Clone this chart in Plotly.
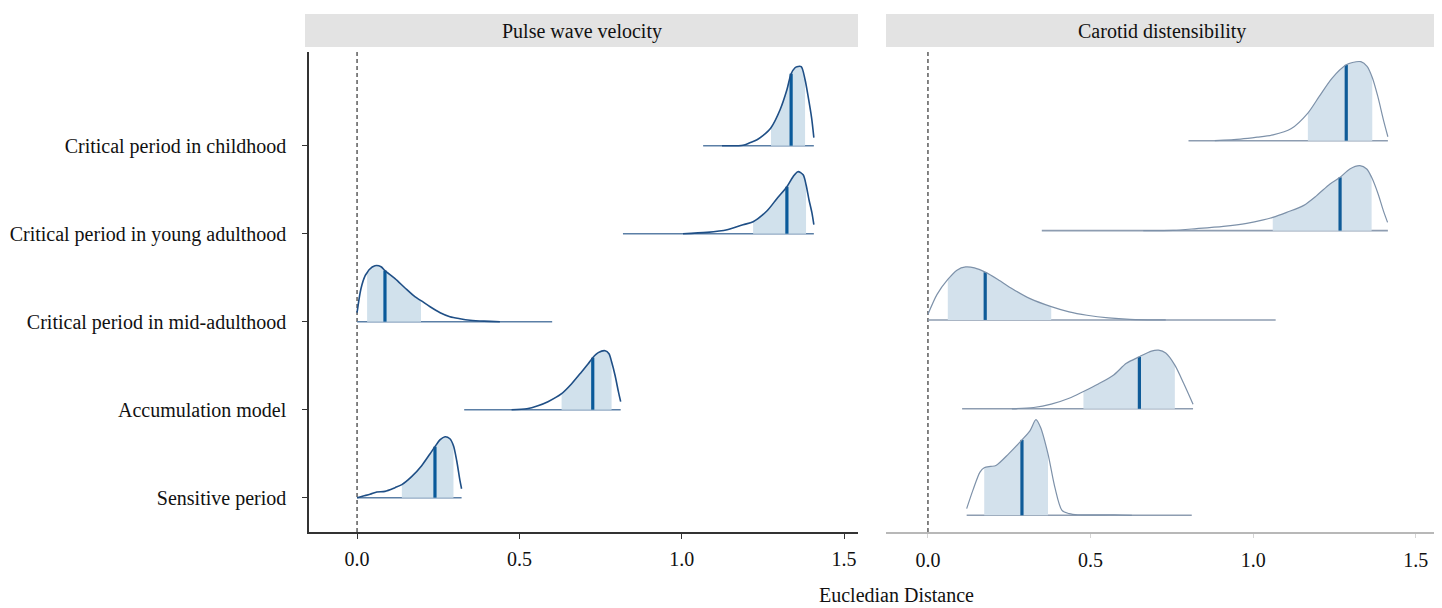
import plotly.graph_objects as go

# ---------------- data ----------------
panels = ["Pulse wave velocity", "Carotid distensibility"]
rows = ["Critical period in childhood", "Critical period in young adulthood",
        "Critical period in mid-adulthood", "Accumulation model", "Sensitive period"]
x_ticks = [0.0, 0.5, 1.0, 1.5]
x_tick_text = ["0.0", "0.5", "1.0", "1.5"]
x_title = "Eucledian Distance"

# Pulse wave velocity: density outline (x, height), [lo, median, hi], [min, max]
pwv_child_x = [1.124, 1.189, 1.210, 1.232, 1.250, 1.275, 1.303, 1.324, 1.337, 1.349, 1.355, 1.368, 1.380, 1.389, 1.400, 1.407]
pwv_child_d = [0, .005, .034, .068, .114, .205, .409, .636, .818, .886, .898, .898, .75, .568, .318, .091]
pwv_child_iv = [1.275, 1.337, 1.380]
pwv_child_rng = [1.066, 1.407]

pwv_young_x = [1.004, 1.078, 1.140, 1.189, 1.220, 1.263, 1.293, 1.324, 1.343, 1.358, 1.374, 1.383, 1.392, 1.401, 1.407]
pwv_young_d = [0, .015, .045, .102, .136, .261, .398, .534, .648, .705, .670, .557, .386, .239, .102]
pwv_young_iv = [1.220, 1.324, 1.383]
pwv_young_rng = [0.819, 1.407]

pwv_mid_x = [0.0, 0.012, 0.025, 0.031, 0.037, 0.055, 0.074, 0.086, 0.117, 0.147, 0.178, 0.197, 0.225, 0.256, 0.286, 0.317, 0.348, 0.391, 0.440]
pwv_mid_d = [.102, .375, .523, .557, .591, .636, .625, .580, .489, .386, .284, .239, .170, .102, .057, .034, .017, .006, 0]
pwv_mid_iv = [0.031, 0.086, 0.197]
pwv_mid_rng = [0.0, 0.601]

pwv_acc_x = [0.476, 0.523, 0.557, 0.588, 0.630, 0.661, 0.692, 0.712, 0.726, 0.743, 0.764, 0.776, 0.784, 0.795, 0.805, 0.812]
pwv_acc_d = [0, .011, .045, .091, .182, .295, .432, .523, .591, .648, .670, .636, .545, .386, .205, .091]
pwv_acc_iv = [0.630, 0.726, 0.784]
pwv_acc_rng = [0.330, 0.812]

pwv_sens_x = [0.0, 0.019, 0.040, 0.061, 0.086, 0.117, 0.138, 0.168, 0.199, 0.225, 0.240, 0.256, 0.271, 0.286, 0.297, 0.307, 0.317, 0.322]
pwv_sens_d = [0, .019, .038, .065, .072, .114, .148, .239, .364, .5, .580, .659, .693, .670, .591, .420, .193, .102]
pwv_sens_iv = [0.138, 0.240, 0.297]
pwv_sens_rng = [0.0, 0.322]

# Carotid distensibility
cd_child_x = [0.882, 0.961, 1.012, 1.061, 1.116, 1.168, 1.203, 1.242, 1.286, 1.305, 1.331, 1.350, 1.366, 1.383, 1.401, 1.414]
cd_child_d = [0, .018, .040, .067, .135, .314, .503, .709, .862, .889, .898, .844, .718, .503, .225, .045]
cd_child_iv = [1.168, 1.286, 1.366]
cd_child_rng = [0.801, 1.414]

cd_young_x = [0.662, 0.754, 0.826, 0.908, 0.980, 1.031, 1.060, 1.103, 1.154, 1.195, 1.236, 1.267, 1.297, 1.328, 1.349, 1.364, 1.384, 1.400, 1.413]
cd_young_d = [0, .003, .023, .049, .083, .122, .151, .208, .284, .398, .531, .606, .701, .739, .701, .606, .417, .227, .094]
cd_young_iv = [1.060, 1.267, 1.364]
cd_young_rng = [0.350, 1.414]

cd_mid_x = [0.0, 0.028, 0.061, 0.089, 0.116, 0.143, 0.176, 0.215, 0.259, 0.314, 0.379, 0.434, 0.489, 0.555, 0.621, 0.731]
cd_mid_d = [.064, .291, .460, .566, .602, .591, .543, .460, .355, .242, .151, .091, .053, .023, .007, 0]
cd_mid_iv = [0.061, 0.176, 0.379]
cd_mid_rng = [0.0, 1.069]

cd_acc_x = [0.258, 0.325, 0.379, 0.434, 0.478, 0.522, 0.571, 0.610, 0.650, 0.687, 0.709, 0.731, 0.759, 0.786, 0.815]
cd_acc_d = [0, .015, .053, .120, .197, .279, .385, .517, .592, .656, .666, .634, .497, .291, .053]
cd_acc_iv = [0.478, 0.650, 0.759]
cd_acc_rng = [0.105, 0.815]

cd_sens_x = [0.119, 0.138, 0.160, 0.173, 0.193, 0.209, 0.248, 0.289, 0.314, 0.332, 0.346, 0.369, 0.390, 0.412, 0.434, 0.461, 0.572, 0.627]
cd_sens_d = [.075, .283, .491, .540, .555, .566, .698, .857, .963, 1.086, 1.0, .698, .320, .057, .019, .006, .006, 0]
cd_sens_iv = [0.173, 0.289, 0.369]
cd_sens_rng = [0.119, 0.811]

# ---------------- layout constants ----------------
PAGE_OFF = 8                     # default body margin of the html page
W, H = 1442 - PAGE_OFF, 608 - PAGE_OFF
FONT = "Liberation Serif, Times New Roman, serif"
row_pos_left = [5, 4, 3, 2, 1]
row_pos_right = [5.057, 4.035, 3.02, 2.01, 0.80]


def px(x):  # page x pixel -> paper fraction
    return (x - PAGE_OFF) / W


def py(y):  # page y pixel -> paper fraction
    return 1 - (y - PAGE_OFF) / H


styles = [
    dict(outline="#1f4f86", ow=1.6, base="#5b7fa6", bw=1.6, med="#0a5a9a", fill="#d1e1ec"),
    dict(outline="#7d91a9", ow=1.2, base="#8e9db1", bw=1.6, med="#0f5b98", fill="#d3e1ec"),
]

panel_data = [
    [(pwv_child_x, pwv_child_d, pwv_child_iv, pwv_child_rng),
     (pwv_young_x, pwv_young_d, pwv_young_iv, pwv_young_rng),
     (pwv_mid_x, pwv_mid_d, pwv_mid_iv, pwv_mid_rng),
     (pwv_acc_x, pwv_acc_d, pwv_acc_iv, pwv_acc_rng),
     (pwv_sens_x, pwv_sens_d, pwv_sens_iv, pwv_sens_rng)],
    [(cd_child_x, cd_child_d, cd_child_iv, cd_child_rng),
     (cd_young_x, cd_young_d, cd_young_iv, cd_young_rng),
     (cd_mid_x, cd_mid_d, cd_mid_iv, cd_mid_rng),
     (cd_acc_x, cd_acc_d, cd_acc_iv, cd_acc_rng),
     (cd_sens_x, cd_sens_d, cd_sens_iv, cd_sens_rng)],
]

fig = go.Figure()

for p, (curves, pos) in enumerate(zip(panel_data, [row_pos_left, row_pos_right])):
    st = styles[p]
    xa, ya = ("x", "y") if p == 0 else ("x2", "y2")
    for (xs, ds, iv, rng), base in zip(curves, pos):
        lo, med, hi = iv
        i_lo, i_med, i_hi = xs.index(lo), xs.index(med), xs.index(hi)
        # baseline
        fig.add_trace(go.Scatter(x=rng, y=[base, base], mode="lines", xaxis=xa, yaxis=ya,
                                 line=dict(color=st["base"], width=st["bw"]),
                                 hoverinfo="skip", showlegend=False))
        # interval fill
        fig.add_trace(go.Scatter(x=[lo, hi], y=[base, base], mode="lines", xaxis=xa, yaxis=ya,
                                 line=dict(width=0, color="rgba(0,0,0,0)"),
                                 hoverinfo="skip", showlegend=False))
        seg_x = xs[i_lo:i_hi + 1]
        seg_y = [base + d for d in ds[i_lo:i_hi + 1]]
        fig.add_trace(go.Scatter(x=seg_x, y=seg_y, mode="lines", xaxis=xa, yaxis=ya,
                                 line=dict(width=0, shape="spline", smoothing=0.8, color="rgba(0,0,0,0)"),
                                 fill="tonexty", fillcolor=st["fill"],
                                 hoverinfo="skip", showlegend=False))
        # median
        fig.add_trace(go.Scatter(x=[med, med], y=[base, base + ds[i_med]], mode="lines",
                                 xaxis=xa, yaxis=ya, line=dict(color=st["med"], width=3.2),
                                 hoverinfo="skip", showlegend=False))
        # outline
        fig.add_trace(go.Scatter(x=xs, y=[base + d for d in ds], mode="lines", xaxis=xa, yaxis=ya,
                                 line=dict(color=st["outline"], width=st["ow"], shape="spline", smoothing=0.8),
                                 hoverinfo="skip", showlegend=False))

y_dom = [py(532), py(52)]
y_rng = [0.61, 6.065]

fig.update_layout(
    width=W, height=H,
    margin=dict(l=0, r=0, t=0, b=0),
    paper_bgcolor="white", plot_bgcolor="white",
    font=dict(family=FONT, size=20, color="#111"),
    showlegend=False,
    xaxis=dict(domain=[px(309), px(858)], range=[-0.148, 1.543], anchor="y",
               tickvals=x_ticks, ticktext=x_tick_text, showgrid=False, zeroline=False,
               showline=True, linecolor="#333", linewidth=1.5,
               ticks="outside", ticklen=5, tickcolor="#333", tickwidth=1.2,
               ticklabelstandoff=3, tickfont=dict(family=FONT, size=20, color="#111")),
    yaxis=dict(domain=y_dom, range=y_rng, anchor="x",
               tickvals=row_pos_left, ticktext=rows, showgrid=False, zeroline=False,
               showline=True, linecolor="#333", linewidth=1.5,
               ticks="outside", ticklen=5, tickcolor="#333", tickwidth=1.2,
               ticklabelstandoff=12, tickfont=dict(family=FONT, size=20, color="#111")),
    xaxis2=dict(domain=[px(886), px(1437)], range=[-0.129, 1.565], anchor="y2",
                tickvals=x_ticks, ticktext=x_tick_text, showgrid=False, zeroline=False,
                showline=True, linecolor="#b8b8b8", linewidth=2,
                ticks="outside", ticklen=4, tickcolor="#d5d5d5", tickwidth=1,
                ticklabelstandoff=5, tickfont=dict(family=FONT, size=20, color="#111")),
    yaxis2=dict(domain=y_dom, range=y_rng, anchor="x2", showticklabels=False,
                showgrid=False, zeroline=False, showline=False, ticks=""),
)

shapes = []
annotations = []
# facet strips
for (x0, x1), label in zip([(305, 858), (886, 1437)], panels):
    shapes.append(dict(type="rect", xref="paper", yref="paper", x0=px(x0), x1=px(x1),
                       y0=py(47), y1=py(14), fillcolor="#e3e3e3", line=dict(width=0),
                       layer="below"))
    annotations.append(dict(text=label, xref="paper", yref="paper", x=px((x0 + x1) / 2),
                            y=py(31), showarrow=False, xanchor="center", yanchor="middle",
                            font=dict(family=FONT, size=20, color="#111")))
# reference lines at zero
for xr, yr in [("x", "y domain"), ("x2", "y2 domain")]:
    shapes.append(dict(type="line", xref=xr, yref=yr, x0=0, x1=0, y0=0, y1=1,
                       line=dict(color="#333", width=1.2, dash="4px,3px"), layer="below"))
annotations.append(dict(text=x_title, xref="paper", yref="paper", x=px(896.5), y=py(595),
                        showarrow=False, xanchor="center", yanchor="middle",
                        font=dict(family=FONT, size=20, color="#111")))
fig.update_layout(shapes=shapes, annotations=annotations)

fig.write_html("out.html")
